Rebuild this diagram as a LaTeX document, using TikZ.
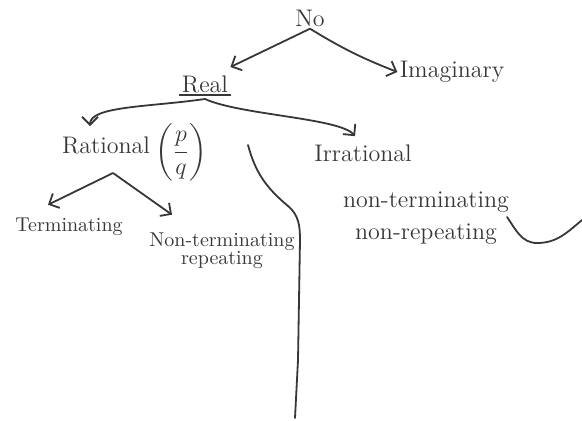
\documentclass[tikz,border=0pt]{standalone}
\usetikzlibrary{arrows.meta}
\usepackage{amsmath}
\definecolor{pen}{RGB}{55,55,55}
\tikzset{
  word/.style={inner sep=1pt, text=pen, font=\large},
  small word/.style={word, font=\normalsize},
  arr/.style={-{Straight Barb[length=4pt, width=8pt]}, draw=pen, line width=0.9pt},
  stroke/.style={draw=pen, line width=0.9pt, line cap=round}
}
\begin{document}
\begin{tikzpicture}[x=0.5pt, y=0.5pt]
\useasboundingbox (0,0) rectangle (582,420);

\node[word] (no) at (310,402) {No};
\node[word] (real) at (205,336) {Real};
\node[word] (imag) at (452,348) {Imaginary};
\node[word] (rat) at (106,275) {Rational};
\node[word] (ratfrac) at (181,268) {$\left(\dfrac{p}{q}\right)$};
\node[word] (irr) at (363,267) {Irrational};
\node[small word] (term) at (69,193) {Terminating};
\node[small word, align=center] (ntrep) at (222,169) {Non-terminating\\[-3pt]repeating};
\node[word, align=center] (ntnr) at (426,202) {non-terminating\\[2pt]non-repeating};

\coordinate (realsplit) at ([yshift=-2pt]real.south);
\coordinate (ratsplit) at (113,247);
\coordinate (septop) at (248,275);
\coordinate (sepbottom) at (295,2);
\coordinate (wavestart) at (507,203);
\coordinate (waveend) at (582,200);

\draw[arr] (no.south) -- ([yshift=3pt]real.north east);
\draw[arr] (no.south) to[bend right=5] (imag.west);
\draw[stroke] (real.south west) -- (real.south east);
\draw[arr] (realsplit) .. controls (150,313) and (90,314) .. ([xshift=-8pt, yshift=4pt]rat.north);
\draw[arr] (realsplit) .. controls (240,305) and (340,302) .. ([xshift=-4pt, yshift=3pt]irr.north);
\draw[arr] (ratsplit) -- ([xshift=-10.5pt, yshift=5.5pt]term.north);
\draw[arr] (ratsplit) -- ([xshift=-25pt, yshift=8pt]ntrep.north);

\draw[stroke] (septop) to[out=-75, in=140] (288,214) to[out=-40, in=90] (300,180) -- (298,60) -- (sepbottom);
\draw[stroke] (wavestart) to[out=-55, in=180] (537,177) to[out=0, in=-140] (waveend);

\end{tikzpicture}
\end{document}
